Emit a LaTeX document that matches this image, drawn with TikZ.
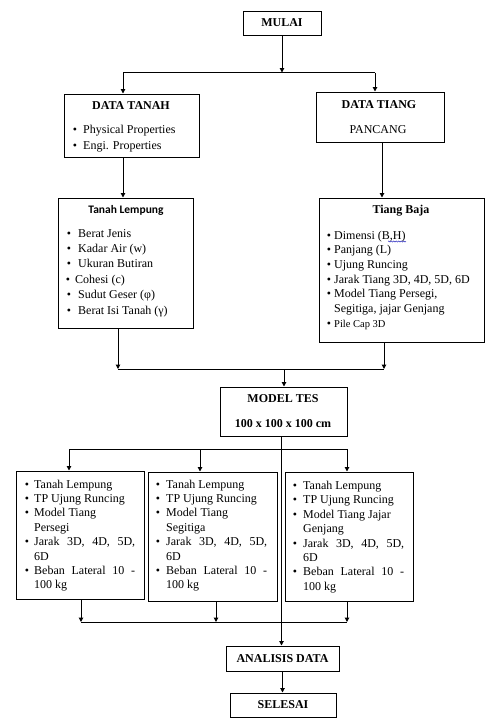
\documentclass[tikz,border=0pt]{standalone}
\usepackage{fontspec}
\setmainfont{Liberation Serif}
\newfontfamily\calib{Carlito}
\usetikzlibrary{arrows.meta,decorations.pathmorphing}
\newcommand\botlist[6]{%
 \node[bl] (#1b1) at (#3,#4) {\textbullet};
 \node[tx] (#1t1) at (#2,#4) {Tanah Lempung};
 \node[bl] (#1b2) at (#3,#4+14.4) {\textbullet};
 \node[tx] (#1t2) at (#2,#4+14.4) {TP Ujung Runcing};
 \node[bl] (#1b3) at (#3,#4+28.8) {\textbullet};
 \node[tx] (#1t3) at (#2,#4+28.8) {#5};
 \node[tx] (#1t4) at (#2,#4+43.2) {#6};
 \node[bl] (#1b5) at (#3,#4+57.6) {\textbullet};
 \node[tx] (#1t5) at (#2,#4+57.6) {\makebox[101pt][s]{Jarak 3D, 4D, 5D,}};
 \node[tx] (#1t6) at (#2,#4+72) {6D};
 \node[bl] (#1b7) at (#3,#4+86.4) {\textbullet};
 \node[tx] (#1t7) at (#2,#4+86.4) {\makebox[101pt][s]{Beban Lateral 10 -}};
 \node[tx] (#1t8) at (#2,#4+100.8) {100 kg};
}
\begin{document}
\begin{tikzpicture}[x=1pt,y=-1pt,
  box/.style={draw,line width=1pt,inner sep=0pt},
  tx/.style={inner sep=0pt,anchor=base west,font=\fontsize{12}{14}\selectfont},
  txc/.style={inner sep=0pt,anchor=base,font=\fontsize{12}{14}\selectfont},
  hd/.style={inner sep=0pt,anchor=base,font=\fontsize{12}{14}\selectfont\bfseries},
  bl/.style={inner sep=0pt,anchor=base,font=\fontsize{12}{14}\selectfont},
  ln/.style={line width=1pt},
  arr/.style={ln,-{Triangle[length=4.5pt,width=4.5pt]}},
  sbox/.style={box,font=\fontsize{12}{14}\selectfont\bfseries,text height=8.5pt,text depth=1.5pt}
]
\path (0,0) rectangle (502,718);

% boxes
\node[sbox,minimum width=78pt,minimum height=24pt] (mulai) at (282,23) {MULAI};
\node[box,minimum width=135pt,minimum height=63pt] (dtanah) at (131.5,125.5) {};
\node[box,minimum width=128pt,minimum height=50pt] (dtiang) at (380,117) {};
\node[box,minimum width=135pt,minimum height=130pt] (tlemp) at (125.5,263) {};
\node[box,minimum width=165pt,minimum height=144pt] (tbaja) at (401.5,270) {};
\node[box,minimum width=127pt,minimum height=49pt] (model) at (283.5,411.5) {};
\node[box,minimum width=128pt,minimum height=128pt] (bA) at (80,535) {};
\node[box,minimum width=129pt,minimum height=129pt] (bB) at (212.5,536.5) {};
\node[box,minimum width=128pt,minimum height=129pt] (bC) at (349,536.5) {};
\node[sbox,minimum width=113pt,minimum height=25pt] (anal) at (282.5,658.5) {ANALISIS DATA};
\node[sbox,minimum width=106pt,minimum height=24pt] (sel) at (283,705) {SELESAI};

% texts: DATA TANAH
\node[hd] (dtanahH) at (131,109) {DATA TANAH};
\node[bl] (dtb1) at (75,133) {\textbullet};
\node[tx] (dtt1) at (83,133) {Physical Properties};
\node[bl] (dtb2) at (75,149) {\textbullet};
\node[tx] (dtt2) at (83,149) {Engi. Properties};
% DATA TIANG
\node[hd] (dtiangH) at (379,108) {DATA TIANG};
\node[txc] (dtiangP) at (378,133) {PANCANG};
% Tanah Lempung
\node[inner sep=0pt,anchor=base,font=\calib\fontsize{11.5}{14}\selectfont\bfseries] (tlH) at (126,213) {Tanah Lempung};
\node[bl] (tlb1) at (69,237) {\textbullet};
\node[tx] (tlt1) at (78,237) {Berat Jenis};
\node[bl] (tlb2) at (69,252.4) {\textbullet};
\node[tx] (tlt2) at (78,252.4) {Kadar Air (w)};
\node[bl] (tlb3) at (69,267.8) {\textbullet};
\node[tx] (tlt3) at (78,267.8) {Ukuran Butiran};
\node[bl] (tlb4) at (68,283.2) {\textbullet};
\node[tx] (tlt4) at (75,283.2) {Cohesi (c)};
\node[bl] (tlb5) at (69,298.6) {\textbullet};
\node[tx] (tlt5) at (78,298.6) {Sudut Geser (φ)};
\node[bl] (tlb6) at (69,314) {\textbullet};
\node[tx] (tlt6) at (78,314) {Berat Isi Tanah (γ)};
% Tiang Baja
\node[hd] (tbH) at (401,213) {Tiang Baja};
\node[bl] (tbb1) at (329,239) {\textbullet};
\node[tx] (tbt1) at (334,239) {Dimensi (B,H)};
\node[bl] (tbb2) at (329,253.7) {\textbullet};
\node[tx] (tbt2) at (334,253.7) {Panjang (L)};
\node[bl] (tbb3) at (329,268.4) {\textbullet};
\node[tx] (tbt3) at (334,268.4) {Ujung Runcing};
\node[bl] (tbb4) at (329,283.1) {\textbullet};
\node[tx] (tbt4) at (334,283.1) {Jarak Tiang 3D, 4D, 5D, 6D};
\node[bl] (tbb5) at (329,297.8) {\textbullet};
\node[tx] (tbt5) at (334,297.8) {Model Tiang Persegi,};
\node[tx] (tbt6) at (334,312.5) {Segitiga, jajar Genjang};
\node[bl] (tbb7) at (329,327.2) {\textbullet};
\node[inner sep=0pt,anchor=base west,font=\fontsize{10.5}{12}\selectfont] (tbt7) at (334,327.2) {Pile Cap 3D};
\draw[blue!70!black,line width=0.4pt,decorate,decoration={snake,amplitude=0.6pt,segment length=2.5pt}] (388,241.5) -- (406,241.5);
% MODEL TES
\node[hd] (modelH) at (283,402) {MODEL TES};
\node[hd] (modelS) at (283,427) {100 x 100 x 100 cm};
% bottom lists
\botlist{a}{34}{27}{488}{Model Tiang}{Persegi}
\botlist{b}{166}{158}{488}{Model Tiang}{Segitiga}
\botlist{c}{303}{295}{489.5}{Model Tiang Jajar}{Genjang}

% connectors
\coordinate (j1) at (282,72.5);
\coordinate (j1l) at (123,72.5);
\coordinate (j1r) at (375,72.5);
\draw[arr] (mulai.south -| j1) -- (j1);
\draw[ln] (j1l) -- (j1r);
\draw[arr] (j1l) -- (j1l |- dtanah.north);
\draw[arr] (j1r) -- (j1r |- dtiang.north);
\coordinate (xt) at (123,0);
\coordinate (xb) at (382,0);
\draw[arr] (xt |- dtanah.south) -- (xt |- tlemp.north);
\draw[arr] (xb |- dtiang.south) -- (xb |- tbaja.north);
\coordinate (j2l) at (118,369);
\coordinate (j2r) at (384,369);
\coordinate (j2m) at (284,369);
\draw[arr] (j2l |- tlemp.south) -- (j2l);
\draw[arr] (j2r |- tbaja.south) -- (j2r);
\draw[ln] (j2l) -- (j2r);
\draw[arr] (j2m) -- (j2m |- model.north);
\coordinate (xm) at (281.5,0);
\draw[arr] (xm |- model.south) -- (xm |- anal.north);
\coordinate (j3l) at (69,449);
\coordinate (j3m) at (200,449);
\coordinate (j3r) at (347,449);
\draw[ln] (j3l) -- (j3r);
\draw[arr] (j3l) -- (j3l |- bA.north);
\draw[arr] (j3m) -- (j3m |- bB.north);
\draw[arr] (j3r) -- (j3r |- bC.north);
\coordinate (j4l) at (81,622);
\coordinate (j4m) at (216,622);
\coordinate (j4r) at (347,622);
\draw[arr] (j4l |- bA.south) -- (j4l);
\draw[arr] (j4m |- bB.south) -- (j4m);
\draw[arr] (j4r |- bC.south) -- (j4r);
\draw[ln] (j4l) -- (j4r);
\draw[arr] (anal.south) -- (anal.south |- sel.north);
\end{tikzpicture}
\end{document}
